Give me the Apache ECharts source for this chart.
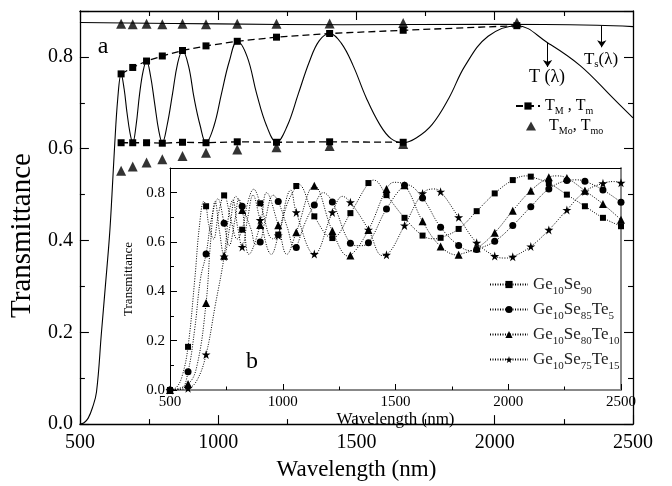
<!DOCTYPE html>
<html><head><meta charset="utf-8">
<script src="https://cdn.jsdelivr.net/npm/echarts@6/dist/echarts.min.js"></script>
<style>html,body{margin:0;padding:0;background:#fff}#c{width:672px;height:486px}</style>
</head><body><div id="c"></div>
<script>
// ---------- Panel (a): main chart ----------
const tCurveWl = [500,515,530,545,560,578,592,607,616,625,637,649,660,670,681,691,703,716,729,741,755,770,785,798,815,835,853,871,893,913,935,956,985,1012,1040,1069,1105,1139,1175,1211,1250,1290,1330,1365,1403,1445,1488,1536,1584,1625,1669,1720,1774,1834,1893,1976,2080,2191,2309,2428,2500];
const tCurveT = [0,0.003,0.013,0.035,0.07,0.2,0.3,0.41,0.5,0.6,0.71,0.763,0.73,0.68,0.635,0.613,0.65,0.72,0.77,0.791,0.76,0.70,0.64,0.613,0.65,0.72,0.785,0.814,0.78,0.71,0.65,0.613,0.65,0.72,0.79,0.834,0.80,0.72,0.65,0.614,0.65,0.72,0.79,0.835,0.851,0.83,0.781,0.71,0.653,0.622,0.613,0.625,0.653,0.71,0.781,0.845,0.868,0.831,0.781,0.71,0.667];
const tsWl = [500,1000,1450,2000,2370,2500];
const tsT = [0.875,0.872,0.870,0.871,0.869,0.866];
const envWl = [649,691,741,798,871,956,1069,1211,1403,1669,2080];
const tMUpper = [0.763,0.777,0.791,0.802,0.814,0.824,0.834,0.843,0.851,0.858,0.868];
const tmWl = [649,691,741,798,871,956,1069,1211,1403,1669];
const tmLower = [0.613,0.613,0.613,0.612,0.614,0.613,0.615,0.614,0.615,0.614];
const tMoUpper = [0.872,0.871,0.872,0.871,0.872,0.871,0.872,0.872,0.873,0.874,0.875];
const tmoLower = [0.552,0.561,0.570,0.577,0.584,0.591,0.598,0.603,0.606,0.610];
const mainXTicks = {min:500, max:2500, interval:500};
const mainYTicks = {min:0, max:0.9, interval:0.2};

// ---------- Panel (b): inset ----------
const insetWl = [500,580,660,740,820,900,980,1060,1140,1220,1300,1380,1460,1540,1620,1700,1780,1860,1940,2020,2100,2180,2260,2340,2420,2500];
const se90 = [0,0.175,0.745,0.789,0.650,0.757,0.630,0.827,0.704,0.616,0.717,0.839,0.79,0.698,0.626,0.617,0.653,0.725,0.797,0.851,0.865,0.838,0.792,0.745,0.698,0.664];
const se85te5 = [0,0.074,0.551,0.676,0.745,0.600,0.764,0.578,0.75,0.762,0.595,0.597,0.734,0.83,0.778,0.660,0.586,0.570,0.603,0.667,0.743,0.815,0.849,0.846,0.811,0.761];
const se80te10 = [0,0.024,0.353,0.544,0.730,0.669,0.668,0.64,0.828,0.645,0.545,0.649,0.815,0.83,0.684,0.582,0.548,0.575,0.638,0.727,0.808,0.862,0.859,0.808,0.754,0.690];
const se75te15 = [0,0.007,0.144,0.541,0.580,0.689,0.626,0.72,0.551,0.72,0.761,0.65,0.548,0.667,0.797,0.804,0.700,0.597,0.543,0.540,0.582,0.649,0.730,0.805,0.838,0.840];
// extra points (peaks / troughs between markers)
const se90CurveWl = [530,555,610,630,650,672,693,716,770,798,845,871,956,1020,1069,1403,1669,2080];
const se90CurveT = [0.012,0.06,0.45,0.66,0.765,0.67,0.612,0.72,0.69,0.612,0.76,0.814,0.613,0.755,0.834,0.851,0.613,0.868];
const se85CurveWl = [550,610,635,685,712,762,790,805,860,880,920,958,1020,1052,1100,1180,1340,1550,1835,2300];
const se85CurveT = [0.005,0.25,0.45,0.70,0.775,0.585,0.70,0.775,0.65,0.59,0.68,0.79,0.66,0.575,0.68,0.80,0.585,0.832,0.565,0.852];
const se80CurveWl = [620,680,700,720,765,792,850,928,1018,1290,1494,1777,2215];
const se80CurveT = [0.10,0.60,0.765,0.64,0.66,0.785,0.55,0.80,0.55,0.543,0.842,0.547,0.868];
const se75CurveWl = [620,700,762,778,800,845,868,950,1036,1265,1441,1670,1986,2470];
const se75CurveT = [0.04,0.34,0.72,0.77,0.66,0.70,0.79,0.55,0.81,0.785,0.545,0.815,0.535,0.845];
const insetNames = ['Ge10Se90','Ge10Se85Te5','Ge10Se80Te10','Ge10Se75Te15'];

const FONT = 'Liberation Serif';
const STAR = 'path://M50,0 L61,35 L98,35 L68,57 L79,91 L50,70 L21,91 L32,57 L2,35 L39,35 Z';

function pairs(xs, ys){ return xs.map((x,i)=>[x, ys[i]]); }
function curveData(mx, my, ex, ey){
  const pts = mx.map((x,i)=>({value:[x, my[i]]}));
  ex.forEach((x,i)=>pts.push({value:[x, ey[i]], symbol:'none'}));
  pts.sort((a,b)=>a.value[0]-b.value[0]);
  return pts;
}

const blk = {color:'#000'};
function axisBase(extra){
  return Object.assign({
    type:'value', splitLine:{show:false}, minorSplitLine:{show:false},
    axisLine:{show:true, onZero:false, lineStyle:{color:'#000', width:1.3}},
    axisTick:{show:true, inside:true, length:9, lineStyle:{color:'#000', width:1.1}},
    minorTick:{show:true, splitNumber:2, length:5, lineStyle:{color:'#000', width:1.1}},
    axisLabel:{show:false}
  }, extra);
}
const plainNum = v => String(v);

const chart = echarts.init(document.getElementById('c'));
const option = {
  animation:false,
  backgroundColor:'#fff',
  grid:[
    {left:73, right:39, top:11, bottom:53},
    {left:170, right:51, top:168, bottom:96, show:true, backgroundColor:'#fff', borderWidth:0}
  ],
  xAxis:[
    axisBase(Object.assign({gridIndex:0, position:'bottom',
      axisLabel:{show:true, fontSize:20, fontFamily:FONT, color:'#000', margin:9, formatter:plainNum},
      name:'Wavelength (nm)', nameLocation:'middle', nameGap:32,
      nameTextStyle:{fontSize:23, fontFamily:FONT, color:'#000'}}, mainXTicks)),
    axisBase(Object.assign({gridIndex:0, position:'top'}, mainXTicks)),
    axisBase(Object.assign({gridIndex:1, position:'bottom',
      axisLine:{show:true, onZero:false, lineStyle:{color:'#888', width:2}},
      axisTick:{show:true, inside:true, length:6, lineStyle:{color:'#000', width:1}},
      minorTick:{show:true, splitNumber:2, length:3.5, lineStyle:{color:'#000', width:1}},
      axisLabel:{show:true, fontSize:15, fontFamily:FONT, color:'#000', margin:5, formatter:plainNum},
      name:'Wavelength (nm)', nameLocation:'middle', nameGap:18,
      nameTextStyle:{fontSize:17, fontFamily:FONT, color:'#000'}}, mainXTicks)),
    axisBase(Object.assign({gridIndex:1, position:'top',
      axisLine:{show:true, onZero:false, lineStyle:{color:'#000', width:1}},
      axisTick:{show:false}, minorTick:{show:false}}, mainXTicks))
  ],
  yAxis:[
    axisBase(Object.assign({gridIndex:0, position:'left',
      axisLabel:{show:true, fontSize:20, fontFamily:FONT, color:'#000', margin:7, showMaxLabel:false,
        formatter:v=>v.toFixed(1)},
      name:'Transmittance', nameLocation:'middle', nameGap:35,
      nameTextStyle:{fontSize:29, fontFamily:FONT, color:'#000', padding:[0,36,0,0]}}, mainYTicks)),
    axisBase(Object.assign({gridIndex:0, position:'right'}, mainYTicks)),
    axisBase(Object.assign({gridIndex:1, position:'left',
      axisLine:{show:true, onZero:false, lineStyle:{color:'#000', width:1}},
      axisTick:{show:true, inside:true, length:7, lineStyle:{color:'#000', width:1}},
      minorTick:{show:true, splitNumber:2, length:4, lineStyle:{color:'#000', width:1}},
      axisLabel:{show:true, fontSize:15, fontFamily:FONT, color:'#000', margin:5, showMaxLabel:false,
        formatter:v=>v.toFixed(1)},
      name:'Transmittance', nameLocation:'middle', nameGap:30,
      nameTextStyle:{fontSize:13, fontFamily:FONT, color:'#000'}}, mainYTicks)),
    axisBase(Object.assign({gridIndex:1, position:'right',
      axisLine:{show:true, onZero:false, lineStyle:{color:'#888', width:2}},
      axisTick:{show:false}, minorTick:{show:false}}, mainYTicks))
  ],
  legend:[
    {data:['TM'], orient:'vertical', left:510, top:93, itemWidth:24, itemHeight:9, itemGap:0,
     selectedMode:false,
     formatter:()=> '{b|T}{s|M}{b| , T}{s|m}',
     textStyle:{rich:{
       b:{fontSize:16, fontFamily:FONT, color:'#000', lineHeight:20},
       s:{fontSize:10, fontFamily:FONT, color:'#000', lineHeight:10, verticalAlign:'bottom'}}}},
    {data:['TMo'], orient:'vertical', left:521, top:113, itemWidth:10, itemHeight:9, itemGap:0,
     selectedMode:false,
     formatter:()=> '{p|}{b|T}{s|Mo}{b|, T}{s|mo}',
     textStyle:{rich:{
       p:{width:8},
       b:{fontSize:16, fontFamily:FONT, color:'#000', lineHeight:20},
       s:{fontSize:10, fontFamily:FONT, color:'#000', lineHeight:10, verticalAlign:'bottom'}}}},
    {data:insetNames, orient:'vertical', left:484, top:271, itemWidth:38, itemHeight:9, itemGap:4,
     selectedMode:false,
     formatter:n=> n.replace(/([A-Za-z]+)(\d+)/g,'{b|$1}{s|$2}'),
     textStyle:{rich:{
       b:{fontSize:17, fontFamily:FONT, color:'#222', lineHeight:25},
       s:{fontSize:11, fontFamily:FONT, color:'#222', lineHeight:10, verticalAlign:'bottom'}}}}
  ],
  graphic:[
    {type:'text', x:103, y:47, style:{text:'a', fontSize:24, fontFamily:FONT, fill:'#000', align:'center', verticalAlign:'middle', textAlign:'center', textVerticalAlign:'middle'}},
    {type:'text', x:252, y:362, style:{text:'b', fontSize:24, fontFamily:FONT, fill:'#000', align:'center', verticalAlign:'middle', textAlign:'center', textVerticalAlign:'middle'}},
    {type:'text', x:547, y:77, style:{text:'{b|T (λ)}', align:'center', verticalAlign:'middle', textAlign:'center', textVerticalAlign:'middle',
      rich:{b:{fontSize:18, fontFamily:FONT, color:'#000', lineHeight:20}}}},
    {type:'text', x:601, y:60, style:{text:'{b|T}{s|s}{b|(λ)}', align:'center', verticalAlign:'middle', textAlign:'center', textVerticalAlign:'middle',
      rich:{b:{fontSize:17, fontFamily:FONT, color:'#000', lineHeight:20}, s:{fontSize:11, fontFamily:FONT, color:'#000', lineHeight:10, verticalAlign:'bottom'}}}}
  ],
  series:[
    {type:'line', name:'T', xAxisIndex:0, yAxisIndex:0, data:pairs(tCurveWl, tCurveT), smooth:0.4,
     symbol:'none', lineStyle:{color:'#000', width:1.1}, z:3,
     markLine:{silent:true, symbol:['none','arrow'], symbolSize:7, label:{show:false},
       lineStyle:{color:'#000', width:1, type:'solid'},
       data:[[{coord:[2191,0.831]},{coord:[2191,0.778]}]]}},
    {type:'line', name:'Ts', xAxisIndex:0, yAxisIndex:0, data:pairs(tsWl, tsT), smooth:0.4,
     symbol:'none', lineStyle:{color:'#000', width:1.1},
     markLine:{silent:true, symbol:['none','arrow'], symbolSize:7, label:{show:false},
       lineStyle:{color:'#000', width:1, type:'solid'},
       data:[[{coord:[2387,0.868]},{coord:[2387,0.821]}]]}},
    {type:'line', name:'TM', xAxisIndex:0, yAxisIndex:0, data:pairs(envWl, tMUpper),
     symbol:'rect', symbolSize:7, itemStyle:blk, lineStyle:{color:'#000', width:1.3, type:[7,4]}, z:4},
    {type:'line', name:'TM', xAxisIndex:0, yAxisIndex:0, data:pairs(tmWl, tmLower),
     symbol:'rect', symbolSize:7, itemStyle:blk, lineStyle:{color:'#000', width:1.3, type:[7,4]}, z:4},
    {type:'scatter', name:'TMo', xAxisIndex:0, yAxisIndex:0, data:pairs(envWl, tMoUpper),
     symbol:'triangle', symbolSize:10, itemStyle:blk, z:5},
    {type:'scatter', name:'TMo', xAxisIndex:0, yAxisIndex:0, data:pairs(tmWl, tmoLower),
     symbol:'triangle', symbolSize:10, itemStyle:blk, z:5},
    {type:'line', name:insetNames[0], xAxisIndex:2, yAxisIndex:2, smooth:0.4,
     data:curveData(insetWl, se90, se90CurveWl, se90CurveT),
     symbol:'rect', symbolSize:6, showSymbol:true, itemStyle:blk, lineStyle:{color:'#000', width:1, type:[1,1.5]}, z:6},
    {type:'line', name:insetNames[1], xAxisIndex:2, yAxisIndex:2, smooth:0.4,
     data:curveData(insetWl, se85te5, se85CurveWl, se85CurveT),
     symbol:'circle', symbolSize:7, showSymbol:true, itemStyle:blk, lineStyle:{color:'#000', width:1, type:[1,1.5]}, z:6},
    {type:'line', name:insetNames[2], xAxisIndex:2, yAxisIndex:2, smooth:0.4,
     data:curveData(insetWl, se80te10, se80CurveWl, se80CurveT),
     symbol:'triangle', symbolSize:8, showSymbol:true, itemStyle:blk, lineStyle:{color:'#000', width:1, type:[1,1.5]}, z:6},
    {type:'line', name:insetNames[3], xAxisIndex:2, yAxisIndex:2, smooth:0.4,
     data:curveData(insetWl, se75te15, se75CurveWl, se75CurveT),
     symbol:STAR, symbolSize:9, showSymbol:true, itemStyle:blk, lineStyle:{color:'#000', width:1, type:[1,1.5]}, z:6}
  ]
};
chart.setOption(option);
</script>
</body></html>
